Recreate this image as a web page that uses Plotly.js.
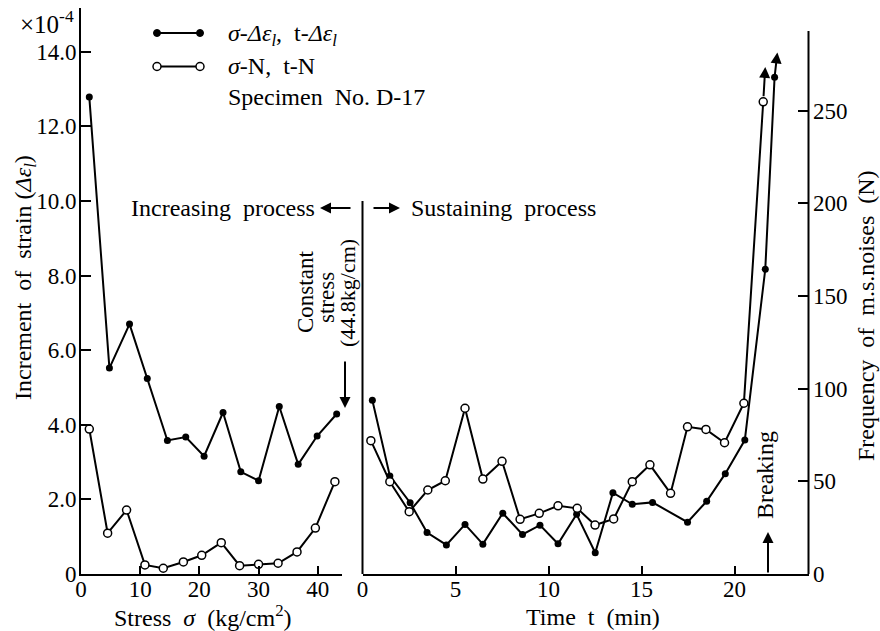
<!DOCTYPE html>
<html>
<head>
<meta charset="utf-8">
<script src="https://cdn.plot.ly/plotly-3.0.1.min.js"></script>
<style>html,body{margin:0;padding:0;background:#fff;}#chart{width:880px;height:631px;}</style>
</head>
<body>
<div id="chart"></div>
<script>
// ---- data ----
// Increasing process: stress sigma (kg/cm2)
const stressStrain = [1.4, 4.8, 8.2, 11.2, 14.6, 17.7, 20.8, 24.0, 27.0, 30.0, 33.5, 36.7, 39.9, 43.2];
const strainIncr   = [12.79, 5.52, 6.70, 5.24, 3.58, 3.67, 3.16, 4.33, 2.74, 2.50, 4.49, 2.94, 3.70, 4.29]; // x1e-4
const stressNoise  = [1.4, 4.5, 7.7, 10.8, 13.9, 17.3, 20.4, 23.7, 26.8, 30.0, 33.3, 36.5, 39.6, 42.9];
const noiseIncr    = [78.2, 22.0, 34.5, 4.9, 3.1, 6.5, 10.1, 16.9, 4.5, 5.2, 5.8, 11.9, 24.8, 49.8];
// Sustaining process: time t (min)
const timeStrain   = [0.53, 1.47, 2.56, 3.47, 4.51, 5.51, 6.47, 7.54, 8.60, 9.54, 10.51, 11.51, 12.51, 13.46, 14.50, 15.59, 17.47, 18.50, 19.50, 20.55, 21.65, 22.15];
const strainSust   = [4.66, 2.63, 1.91, 1.11, 0.78, 1.33, 0.80, 1.63, 1.06, 1.31, 0.81, 1.60, 0.57, 2.18, 1.87, 1.92, 1.39, 1.95, 2.69, 3.59, 8.17, 13.32];
const timeNoise    = [0.45, 1.47, 2.51, 3.51, 4.45, 5.51, 6.47, 7.50, 8.47, 9.50, 10.51, 11.54, 12.50, 13.50, 14.50, 15.45, 16.56, 17.47, 18.46, 19.46, 20.50, 21.54];
const noiseSust    = [71.9, 49.8, 33.6, 45.3, 50.3, 89.4, 51.2, 60.8, 29.5, 32.7, 36.8, 35.4, 26.4, 29.7, 49.8, 58.9, 43.5, 79.4, 78.0, 70.8, 92.1, 254.7];
// ticks
const stressTicks = [0, 10, 20, 30, 40];
const timeTicks   = [0, 5, 10, 15, 20];
const strainTicks = [0, 2, 4, 6, 8, 10, 12, 14];
const strainTickText = ['0', '2.0', '4.0', '6.0', '8.0', '10.0', '12.0', '14.0'];
const noiseTicks  = [0, 50, 100, 150, 200, 250];

// ---- geometry helpers ----
const L = 81, T = 8, W = 728, H = 566;
const px = x => (x - L) / W;
const py = y => (T + H - y) / H;
const FONT = "'Liberation Serif', 'Times New Roman', 'DejaVu Serif', serif";
const BLK = '#000';
const F = s => ({family: FONT, size: s, color: BLK});

const filledLine = {color: BLK, width: 2};
const filledMarker = {symbol: 'circle', size: 7, color: BLK};
const openMarker = {symbol: 'circle', size: 8, color: '#fff', line: {color: BLK, width: 1.5}};

const traces = [
  {x: stressStrain, y: strainIncr, xaxis: 'x', yaxis: 'y', mode: 'lines+markers', line: filledLine, marker: filledMarker, cliponaxis: false},
  {x: stressNoise, y: noiseIncr, xaxis: 'x', yaxis: 'y4', mode: 'lines+markers', line: filledLine, marker: openMarker, cliponaxis: false},
  {x: timeStrain, y: strainSust, xaxis: 'x2', yaxis: 'y3', mode: 'lines+markers', line: filledLine, marker: filledMarker, cliponaxis: false},
  {x: timeNoise, y: noiseSust, xaxis: 'x2', yaxis: 'y2', mode: 'lines+markers', line: filledLine, marker: openMarker, cliponaxis: false}
];

const strainRange = [0, H / 37.3];
const noiseRange = [0, H / 1.854];

const txt = (text, x, y, opts) => Object.assign({text, x, y, xref: 'paper', yref: 'paper', showarrow: false,
  xanchor: 'center', yanchor: 'middle', font: F(24)}, opts || {});
const arrow = (x, y, ax, ay) => ({text: '', x: px(x), y: py(y), xref: 'paper', yref: 'paper', showarrow: true,
  ax: ax, ay: ay, arrowhead: 2, arrowsize: 1.1, arrowwidth: 2, arrowcolor: BLK, standoff: 0});

const annotations = [
  txt('×10<sup>-4</sup>', px(47), py(22), {font: F(25)}),
  txt('<i>σ</i>-<i>Δε<sub>l</sub></i>,  t-<i>Δε<sub>l</sub></i>', px(226), py(35), {xanchor: 'left'}),
  txt('<i>σ</i>-N,  t-N', px(226), py(66), {xanchor: 'left'}),
  txt('Specimen  No. D-17', px(226), py(97), {xanchor: 'left'}),
  txt('Increasing  process', px(317), py(208), {xanchor: 'right'}),
  txt('Sustaining  process', px(409), py(208), {xanchor: 'left'}),
  arrow(320, 208, 32, 0),
  arrow(400, 208, -28, 0),
  txt('Constant', px(305), py(292), {textangle: -90, font: F(23)}),
  txt('stress', px(326), py(298), {textangle: -90, font: F(23)}),
  txt('(44.8kg/cm)', px(347), py(293), {textangle: -90, font: F(22)}),
  arrow(345, 408, 0, -48),
  txt('Breaking', px(765), py(475), {textangle: -90}),
  arrow(768, 532, 0, 42),
  txt('Increment  of  strain (<i>Δε<sub>l</sub></i>)', px(25), py(278), {textangle: -90}),
  txt('Frequency  of  m.s.noises  (N)', px(866), py(316), {textangle: -90}),
  txt('Stress  <i>σ</i>  (kg/cm<sup>2</sup>)', px(203), py(616), {font: F(24)}),
  txt('Time  t  (min)', px(593), py(617), {font: F(24)}),
  // continuation arrows at the top of the sustaining curves
  {text: '', xref: 'x2', yref: 'y2', axref: 'x2', ayref: 'y2', x: 21.65, y: 273.5, ax: timeNoise[timeNoise.length - 1], ay: noiseSust[noiseSust.length - 1],
   showarrow: true, arrowhead: 2, arrowsize: 1.1, arrowwidth: 2, arrowcolor: BLK, standoff: 0, startstandoff: 4},
  {text: '', xref: 'x2', yref: 'y3', axref: 'x2', ayref: 'y3', x: 22.3, y: 13.98, ax: timeStrain[timeStrain.length - 1], ay: strainSust[strainSust.length - 1],
   showarrow: true, arrowhead: 2, arrowsize: 1.1, arrowwidth: 2, arrowcolor: BLK, standoff: 0}
];

const shapes = [
  // divider (left line of the sustaining panel)
  {type: 'line', xref: 'paper', yref: 'paper', x0: px(362.5), x1: px(362.5), y0: py(574), y1: py(201), line: {color: BLK, width: 2}},
  // right axis line
  {type: 'line', xref: 'paper', yref: 'paper', x0: px(808.5), x1: px(808.5), y0: py(574), y1: py(31), line: {color: BLK, width: 2}},
  // legend glyphs
  {type: 'line', xref: 'paper', yref: 'paper', x0: px(157), x1: px(200), y0: py(33), y1: py(33), line: {color: BLK, width: 2}},
  {type: 'circle', xref: 'paper', yref: 'paper', x0: px(153.5), x1: px(160.5), y0: py(36.5), y1: py(29.5), fillcolor: BLK, line: {color: BLK, width: 1}},
  {type: 'circle', xref: 'paper', yref: 'paper', x0: px(196.5), x1: px(203.5), y0: py(36.5), y1: py(29.5), fillcolor: BLK, line: {color: BLK, width: 1}},
  {type: 'line', xref: 'paper', yref: 'paper', x0: px(157), x1: px(200), y0: py(66.5), y1: py(66.5), line: {color: BLK, width: 2}},
  {type: 'circle', xref: 'paper', yref: 'paper', x0: px(153), x1: px(161), y0: py(70.5), y1: py(62.5), fillcolor: '#fff', line: {color: BLK, width: 1.5}},
  {type: 'circle', xref: 'paper', yref: 'paper', x0: px(196), x1: px(204), y0: py(70.5), y1: py(62.5), fillcolor: '#fff', line: {color: BLK, width: 1.5}}
];

const layout = {
  width: 880, height: 631,
  margin: {l: L, r: 880 - L - W, t: T, b: 631 - T - H},
  paper_bgcolor: '#fff', plot_bgcolor: 'rgba(0,0,0,0)',
  showlegend: false,
  font: F(22),
  xaxis: {domain: [0, px(342)], range: [0, 44.1], anchor: 'y', showgrid: false, zeroline: false,
          showline: true, linecolor: BLK, linewidth: 2, ticks: 'inside', ticklen: 8, tickwidth: 2, tickcolor: BLK,
          tickvals: stressTicks, tickfont: F(23), ticklabelstandoff: -7},
  xaxis2: {domain: [px(362.5), 1], range: [0, 24], anchor: 'y3', showgrid: false, zeroline: false,
          showline: true, linecolor: BLK, linewidth: 2, ticks: 'inside', ticklen: 8, tickwidth: 2, tickcolor: BLK,
          tickvals: timeTicks, tickfont: F(23), ticklabelstandoff: -7},
  yaxis: {domain: [0, 1], range: strainRange, anchor: 'x', showgrid: false, zeroline: false,
          showline: true, linecolor: BLK, linewidth: 2, ticks: 'inside', ticklen: 10, tickwidth: 2, tickcolor: BLK,
          tickvals: strainTicks, ticktext: strainTickText, tickfont: F(23), ticklabelstandoff: -2},
  yaxis4: {overlaying: 'y', anchor: 'x', range: noiseRange, visible: false},
  yaxis3: {domain: [0, 1], range: strainRange, anchor: 'x2', visible: false},
  yaxis2: {overlaying: 'y3', anchor: 'x2', side: 'right', range: noiseRange, showgrid: false, zeroline: false,
          showline: false, ticks: 'inside', ticklen: 11, tickwidth: 2, tickcolor: BLK,
          tickvals: noiseTicks, tickfont: F(23), ticklabelstandoff: 3},
  annotations: annotations,
  shapes: shapes
};

Plotly.newPlot('chart', traces, layout, {staticPlot: true, displayModeBar: false});
</script>
</body>
</html>
